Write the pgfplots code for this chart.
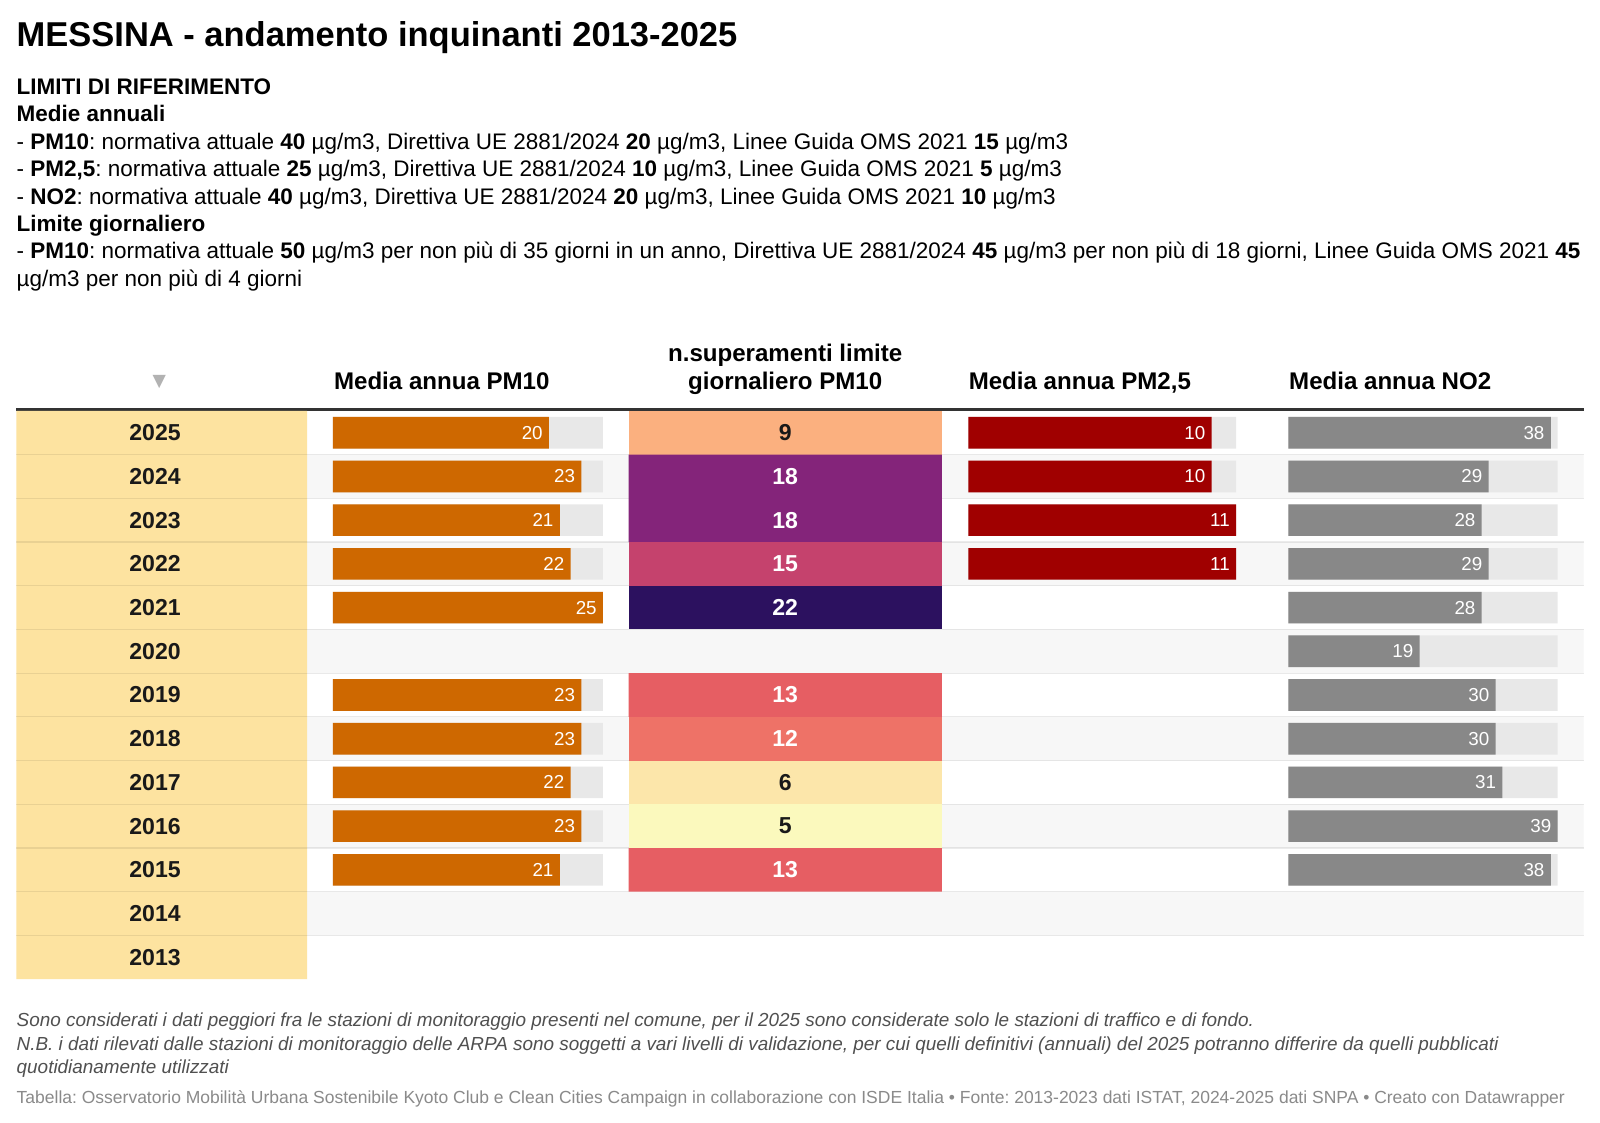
\documentclass[border=0pt]{standalone}
\usepackage{pgfplots}
\pgfplotsset{compat=1.18}
\usepackage{fontspec}
\setmainfont{Liberation Sans}
\newfontfamily\sym{DejaVu Sans}
\newcommand\fs[1]{\fontsize{#1pt}{#1pt}\selectfont}
\frenchspacing

\definecolor{pmten}{RGB}{206,104,0}
\definecolor{pmtwo}{RGB}{160,0,0}
\definecolor{notwo}{RGB}{136,136,136}
\definecolor{barbg}{RGB}{232,232,232}
\definecolor{stripe}{RGB}{247,247,247}
\definecolor{yearcol}{RGB}{253,227,160}
\definecolor{rule}{RGB}{51,51,51}
\definecolor{notes}{RGB}{80,80,80}
\definecolor{source}{RGB}{138,138,138}
\definecolor{cA}{RGB}{251,249,189}% 5
\definecolor{cB}{RGB}{252,230,170}% 6
\definecolor{cC}{RGB}{251,176,127}% 9
\definecolor{cD}{RGB}{238,114,103}% 12
\definecolor{cE}{RGB}{230,94,99}%   13
\definecolor{cF}{RGB}{197,66,109}%  15
\definecolor{cG}{RGB}{132,36,122}%  18
\definecolor{cH}{RGB}{44,17,95}%    22

\pgfplotsset{
  col/.style={anchor=north west, scale only axis, height=278.4pt,
    ymin=2012.5, ymax=2025.5, xmin=0, hide axis, clip=false},
  mybar/.style={xbar, bar shift=0pt, bar width=15.5pt, draw=none},
  cell/.style={xbar, bar shift=0pt, bar width=21.415pt, draw=none},
  vals/.style={nodes near coords, point meta=x,
    /pgf/number format/assume math mode=true,
    every node near coord/.append style={anchor=east, xshift=-2.9pt,
      inner sep=0pt, text=white, font=\fs{9.2}}},
  lab/.style={draw=none, mark=none, nodes near coords,
    point meta=explicit symbolic,
    every node near coord/.append style={anchor=center, inner sep=0pt,
      font=\bfseries\fs{11.3}}},
}

\begin{document}
\begin{tikzpicture}
% canvas in reference pixels (scaled 0.98)
\begin{axis}[name=canvas, at={(0,0)}, anchor=north west, scale only axis,
  width=784pt, height=550.2pt, xmin=0, xmax=1568, ymin=0, ymax=1100.4,
  y dir=reverse, hide axis, clip=false]
\addplot[fill=white, draw=none] coordinates {(0,0) (1568,0) (1568,1100.4) (0,1100.4) (0,0)};
\addplot[draw=rule, line width=1.5pt] coordinates {(16,401.3) (1552,401.3)};

\node[anchor=base west, inner sep=0pt, font=\bfseries\fs{16.9}] at (16,45.8)
  {MESSINA - andamento inquinanti 2013-2025};
\begin{scope}[every node/.style={anchor=base west, inner sep=0pt, font=\fs{11.02}}]
\node at (16,92.4) {\textbf{LIMITI DI RIFERIMENTO}};
\node at (16,119.3) {\textbf{Medie annuali}};
\node at (16,146.2) {- \textbf{PM10}: normativa attuale \textbf{40} µg/m3, Direttiva UE 2881/2024 \textbf{20} µg/m3, Linee Guida OMS 2021 \textbf{15} µg/m3};
\node at (16,173.1) {- \textbf{PM2,5}: normativa attuale \textbf{25} µg/m3, Direttiva UE 2881/2024 \textbf{10} µg/m3, Linee Guida OMS 2021 \textbf{5} µg/m3};
\node at (16,200.0) {- \textbf{NO2}: normativa attuale \textbf{40} µg/m3, Direttiva UE 2881/2024 \textbf{20} µg/m3, Linee Guida OMS 2021 \textbf{10} µg/m3};
\node at (16,226.9) {\textbf{Limite giornaliero}};
\node at (16,253.8) {- \textbf{PM10}: normativa attuale \textbf{50} µg/m3 per non più di 35 giorni in un anno, Direttiva UE 2881/2024 \textbf{45} µg/m3 per non più di 18 giorni, Linee Guida OMS 2021 \textbf{45}};
\node at (16,280.7) {µg/m3 per non più di 4 giorni};
\end{scope}

\begin{scope}[every node/.style={inner sep=0pt, font=\bfseries\fs{11.8}}]
\node[anchor=base west] at (327,382) {Media annua PM10};
\node[anchor=base] at (769.5,354) {n.superamenti limite};
\node[anchor=base] at (769.5,382) {giornaliero PM10};
\node[anchor=base west] at (949,382) {Media annua PM2,5};
\node[anchor=base west] at (1263,382) {Media annua NO2};
\end{scope}
\node[inner sep=0pt, text=black!30, font=\sym\fs{8.5}] at (156,374) {▼};

\begin{scope}[every node/.style={anchor=base west, inner sep=0pt, font=\itshape\fs{9.26}, text=notes}]
\node at (16,1006) {Sono considerati i dati peggiori fra le stazioni di monitoraggio presenti nel comune, per il 2025 sono considerate solo le stazioni di traffico e di fondo.};
\node at (16,1029) {N.B. i dati rilevati dalle stazioni di monitoraggio delle ARPA sono soggetti a vari livelli di validazione, per cui quelli definitivi (annuali) del 2025 potranno differire da quelli pubblicati};
\node at (16,1052) {quotidianamente utilizzati};
\end{scope}
\node[anchor=base west, inner sep=0pt, font=\fs{8.57}, text=source] at (16,1081)
  {Tabella: Osservatorio Mobilità Urbana Sostenibile Kyoto Club e Clean Cities Campaign in collaborazione con ISDE Italia • Fonte: 2013-2023 dati ISTAT, 2024-2025 dati SNPA • Creato con Datawrapper};
\end{axis}

% striped rows
\begin{axis}[col, at={(150.5pt,-201.35pt)}, width=625.5pt, xmax=1]
\addplot[cell, fill=stripe] coordinates {(1,2024) (1,2022) (1,2020) (1,2018) (1,2016) (1,2014)};
\end{axis}

% year column
\begin{axis}[col, at={(8pt,-201.35pt)}, width=142.5pt, xmax=1]
\addplot[cell, fill=yearcol] coordinates {(1,2025) (1,2024) (1,2023) (1,2022) (1,2021) (1,2020) (1,2019)
  (1,2018) (1,2017) (1,2016) (1,2015) (1,2014) (1,2013)};
\addplot[lab, every node near coord/.append style={text=black!90}] coordinates {
  (0.477,2025)[2025] (0.477,2024)[2024] (0.477,2023)[2023] (0.477,2022)[2022] (0.477,2021)[2021]
  (0.477,2020)[2020] (0.477,2019)[2019] (0.477,2018)[2018] (0.477,2017)[2017] (0.477,2016)[2016]
  (0.477,2015)[2015] (0.477,2014)[2014] (0.477,2013)[2013]};
\end{axis}

% row separators
\begin{axis}[anchor=north west, scale only axis, at={(8pt,-201.35pt)}, width=768pt, height=278.4pt,
  ymin=2012.5, ymax=2025.5, xmin=0, xmax=1, axis line style={draw=none},
  xtick=\empty, ytick={2013.5,2014.5,...,2024.5}, yticklabels={}, major tick length=0pt,
  ymajorgrids, grid style={draw=black, opacity=0.08, line width=0.6pt}]
\addplot[draw=none] coordinates {(0,2013)};
\end{axis}

% PM10 annual mean
\begin{axis}[col, at={(163.15pt,-201.35pt)}, width=132.3pt, xmax=25]
\addplot[mybar, fill=barbg] coordinates {(25,2025) (25,2024) (25,2023) (25,2022) (25,2021)
  (25,2019) (25,2018) (25,2017) (25,2016) (25,2015)};
\addplot[mybar, fill=pmten, vals] coordinates {(20,2025) (23,2024) (21,2023) (22,2022) (25,2021)
  (23,2019) (23,2018) (22,2017) (23,2016) (21,2015)};
\end{axis}

% daily limit exceedances PM10
\begin{axis}[col, at={(308pt,-201.35pt)}, width=153.5pt, xmax=1]
\addplot[cell, fill=cC] coordinates {(1,2025)};
\addplot[cell, fill=cG] coordinates {(1,2024) (1,2023)};
\addplot[cell, fill=cF] coordinates {(1,2022)};
\addplot[cell, fill=cH] coordinates {(1,2021)};
\addplot[cell, fill=cE] coordinates {(1,2019) (1,2015)};
\addplot[cell, fill=cD] coordinates {(1,2018)};
\addplot[cell, fill=cB] coordinates {(1,2017)};
\addplot[cell, fill=cA] coordinates {(1,2016)};
\addplot[lab, every node near coord/.append style={text=white}] coordinates {
  (0.5,2024)[18] (0.5,2023)[18] (0.5,2022)[15] (0.5,2021)[22]
  (0.5,2019)[13] (0.5,2018)[12] (0.5,2015)[13]};
\addplot[lab, every node near coord/.append style={text=black!90}] coordinates {
  (0.5,2025)[9] (0.5,2017)[6] (0.5,2016)[5]};
\end{axis}

% PM2,5 annual mean
\begin{axis}[col, at={(474.5pt,-201.35pt)}, width=131.15pt, xmax=11]
\addplot[mybar, fill=barbg] coordinates {(11,2025) (11,2024) (11,2023) (11,2022)};
\addplot[mybar, fill=pmtwo, vals] coordinates {(10,2025) (10,2024) (11,2023) (11,2022)};
\end{axis}

% NO2 annual mean
\begin{axis}[col, at={(631.3pt,-201.35pt)}, width=131.95pt, xmax=39]
\addplot[mybar, fill=barbg] coordinates {(39,2025) (39,2024) (39,2023) (39,2022) (39,2021) (39,2020)
  (39,2019) (39,2018) (39,2017) (39,2016) (39,2015)};
\addplot[mybar, fill=notwo, vals] coordinates {(38,2025) (29,2024) (28,2023) (29,2022) (28,2021) (19,2020)
  (30,2019) (30,2018) (31,2017) (39,2016) (38,2015)};
\end{axis}
\end{tikzpicture}
\end{document}
